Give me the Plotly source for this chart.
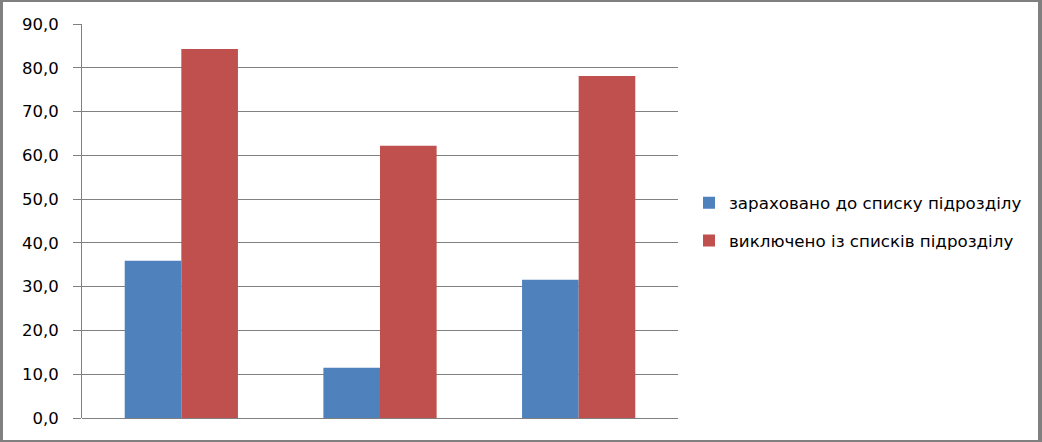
import plotly.graph_objects as go

categories = ["1", "2", "3"]
series_names = ["зараховано до списку підрозділу", "виключено із списків підрозділу"]
enrolled = [35.9, 11.5, 31.6]
excluded = [84.3, 62.2, 78.1]
colors = ["#4F81BD", "#C0504D"]
y_ticks = [0, 10, 20, 30, 40, 50, 60, 70, 80, 90]

W, H = 1042, 442
L, R, T, B = 82, 364, 24, 24
pw = W - L - R
ph = H - T - B

fig = go.Figure()
for i, (name, vals) in enumerate(zip(series_names, [enrolled, excluded])):
    fig.add_trace(go.Bar(x=categories, y=vals, name=name, marker_color=colors[i],
                         marker_line_width=0, legendgroup=str(i)))

def px_x(x):
    return (x - L) / pw

def px_y(y):
    return (H - B - y) / ph

gray = "#808080"
shapes = [
    dict(type="line", xref="paper", yref="paper", x0=px_x(1.5), x1=px_x(1.5), y0=px_y(0), y1=px_y(H), line=dict(color=gray, width=3)),
    dict(type="line", xref="paper", yref="paper", x0=px_x(0), x1=px_x(W), y0=px_y(1), y1=px_y(1), line=dict(color=gray, width=2)),
    dict(type="line", xref="paper", yref="paper", x0=px_x(W - 2), x1=px_x(W - 2), y0=px_y(0), y1=px_y(H), line=dict(color=gray, width=4)),
    dict(type="line", xref="paper", yref="paper", x0=px_x(0), x1=px_x(W), y0=px_y(H - 1), y1=px_y(H - 1), line=dict(color=gray, width=2)),
]

fig.update_layout(
    width=W, height=H,
    margin=dict(l=L, r=R, t=T, b=B, pad=0, autoexpand=False),
    paper_bgcolor="white", plot_bgcolor="white",
    separators=", ",
    barmode="group", bargap=0.43, bargroupgap=0,
    font=dict(family="DejaVu Sans", size=16, color="black"),
    showlegend=True,
    legend=dict(x=px_x(689), xanchor="left", y=px_y(222), yanchor="middle",
                font=dict(family="DejaVu Sans", size=16.7, color="black"),
                tracegroupgap=13, traceorder="grouped", bgcolor="rgba(0,0,0,0)"),
    shapes=shapes,
)
fig.update_xaxes(showticklabels=False, showgrid=False, showline=False, zeroline=False, ticks="",
                 automargin=False)
fig.update_yaxes(range=[0, 90], tickvals=y_ticks, tickformat=".1f", showgrid=True, gridcolor=gray,
                 gridwidth=1, showline=True, linecolor=gray, linewidth=1, ticks="outside",
                 ticklen=8, tickcolor=gray, zeroline=True, zerolinecolor=gray, zerolinewidth=1,
                 tickfont=dict(family="DejaVu Sans", size=16.5, color="black"), ticklabelstandoff=11,
                 automargin=False)

fig.write_html("out.html", config={"displayModeBar": False},
               post_script="document.body.style.margin='0';document.body.style.overflow='hidden';")
